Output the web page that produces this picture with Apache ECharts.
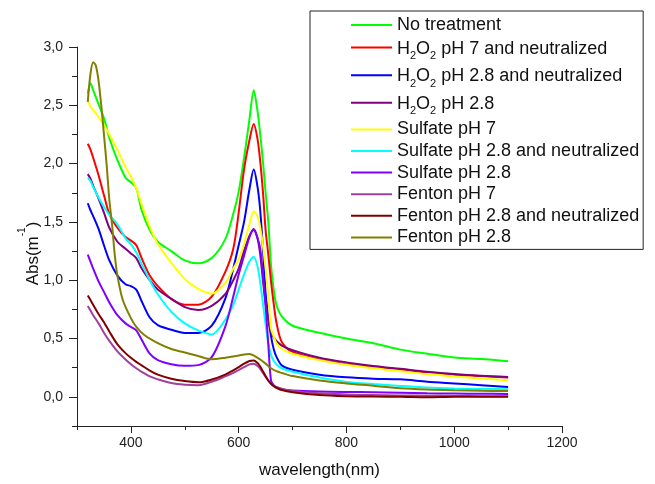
<!DOCTYPE html>
<html>
<head>
<meta charset="utf-8">
<script src="https://cdn.jsdelivr.net/npm/echarts@6/dist/echarts.min.js"></script>
<style>
  html, body { margin: 0; padding: 0; background: #fff; }
  #chart { width: 655px; height: 484px; }
</style>
</head>
<body>
<div id="chart"></div>
<script>
// Absorption spectra of the treated samples (wavelength in nm, absorbance in m^-1)
const wavelength = [320, 325, 330, 340, 350, 360, 375, 390, 400, 410, 420, 435, 450, 475, 500,
  525, 550, 575, 590, 600, 610, 620, 628, 635, 640, 645, 650, 655, 660, 665, 670, 680, 700,
  750, 800, 850, 900, 950, 1000, 1050, 1100];

const noTreatment = [2.60, 2.69, 2.63, 2.51, 2.39, 2.22, 2.03, 1.88, 1.84, 1.79, 1.60, 1.43, 1.33, 1.25, 1.17,
  1.145, 1.19, 1.35, 1.57, 1.76, 2.05, 2.38, 2.63, 2.45, 2.25, 2.02, 1.75, 1.50, 1.13, 0.92, 0.79, 0.69, 0.61,
  0.55, 0.50, 0.46, 0.405, 0.37, 0.337, 0.325, 0.305];
const h2o2Ph7Neutralized = [2.17, 2.12, 2.05, 1.90, 1.73, 1.57, 1.45, 1.37, 1.34, 1.30, 1.19, 1.04, 0.95, 0.84, 0.79,
  0.79, 0.86, 1.07, 1.27, 1.58, 1.95, 2.20, 2.34, 2.21, 2.02, 1.76, 1.43, 1.22, 0.99, 0.80, 0.64, 0.47, 0.385,
  0.32, 0.28, 0.255, 0.235, 0.21, 0.19, 0.178, 0.165];
const h2o2Ph28Neutralized = [1.66, 1.60, 1.55, 1.44, 1.30, 1.17, 1.04, 0.965, 0.95, 0.92, 0.82, 0.68, 0.615, 0.575, 0.548,
  0.548, 0.61, 0.84, 1.10, 1.30, 1.50, 1.78, 1.95, 1.80, 1.60, 1.27, 0.89, 0.68, 0.52, 0.41, 0.345, 0.27, 0.232,
  0.19, 0.168, 0.156, 0.15, 0.13, 0.115, 0.10, 0.085];
const h2o2Ph28 = [1.91, 1.87, 1.81, 1.70, 1.58, 1.45, 1.33, 1.27, 1.23, 1.19, 1.10, 1.00, 0.92, 0.84, 0.77,
  0.745, 0.78, 0.88, 1.00, 1.10, 1.25, 1.38, 1.44, 1.36, 1.22, 1.00, 0.80, 0.66, 0.56, 0.51, 0.48, 0.44, 0.40,
  0.335, 0.295, 0.265, 0.24, 0.215, 0.195, 0.18, 0.17];
const sulfatePh7 = [2.54, 2.49, 2.46, 2.40, 2.33, 2.25, 2.12, 1.97, 1.89, 1.79, 1.65, 1.46, 1.31, 1.15, 1.01,
  0.925, 0.885, 0.975, 1.10, 1.18, 1.31, 1.48, 1.59, 1.55, 1.45, 1.30, 1.10, 0.87, 0.59, 0.52, 0.46, 0.41, 0.37,
  0.315, 0.275, 0.245, 0.22, 0.195, 0.175, 0.158, 0.141];
const sulfatePh28Neutralized = [1.88, 1.85, 1.80, 1.71, 1.63, 1.56, 1.48, 1.36, 1.31, 1.24, 1.14, 1.00, 0.88, 0.73, 0.63,
  0.57, 0.535, 0.66, 0.79, 0.92, 1.05, 1.16, 1.20, 1.12, 0.98, 0.80, 0.62, 0.46, 0.36, 0.31, 0.28, 0.245, 0.215,
  0.165, 0.128, 0.11, 0.094, 0.08, 0.072, 0.068, 0.065];
const sulfatePh28 = [1.22, 1.16, 1.10, 0.99, 0.90, 0.81, 0.70, 0.63, 0.60, 0.57, 0.49, 0.37, 0.315, 0.28, 0.266,
  0.272, 0.34, 0.60, 0.86, 1.05, 1.21, 1.37, 1.43, 1.36, 1.27, 1.05, 0.78, 0.45, 0.14, 0.10, 0.08, 0.065, 0.055,
  0.046, 0.042, 0.04, 0.035, 0.03, 0.028, 0.026, 0.025];
const fentonPh7 = [0.78, 0.74, 0.70, 0.63, 0.55, 0.48, 0.39, 0.32, 0.28, 0.245, 0.215, 0.175, 0.15, 0.118, 0.104,
  0.10, 0.13, 0.175, 0.205, 0.23, 0.255, 0.278, 0.283, 0.265, 0.24, 0.205, 0.17, 0.14, 0.115, 0.095, 0.085, 0.07, 0.05,
  0.03, 0.02, 0.015, 0.012, 0.01, 0.008, 0.006, 0.005];
const fentonPh28Neutralized = [0.87, 0.83, 0.79, 0.71, 0.64, 0.56, 0.45, 0.375, 0.335, 0.30, 0.27, 0.225, 0.19, 0.155, 0.135,
  0.125, 0.148, 0.19, 0.228, 0.255, 0.285, 0.308, 0.312, 0.29, 0.26, 0.22, 0.178, 0.14, 0.112, 0.092, 0.078, 0.058, 0.04,
  0.016, 0.006, 0.002, 0.0, -0.004, 0.0, 0.0, 0.0];

// Fenton pH 2.8 is sampled more finely around its sharp UV band
const fentonWavelength = [320, 325, 330, 335, 340, 345, 350, 355, 360, 365, 370, 375, 385, 400, 410,
  425, 450, 475, 500, 525, 550, 575, 600, 620, 630, 640, 650, 660, 670, 680, 700, 750, 800, 850, 900,
  950, 1000, 1050, 1100];
const fentonPh28 = [2.53, 2.77, 2.87, 2.84, 2.71, 2.50, 2.25, 1.99, 1.69, 1.48, 1.22, 1.04, 0.83, 0.675, 0.60,
  0.53, 0.46, 0.41, 0.38, 0.35, 0.322, 0.335, 0.355, 0.368, 0.35, 0.32, 0.285, 0.245, 0.22, 0.205, 0.178,
  0.14, 0.115, 0.095, 0.073, 0.062, 0.056, 0.052, 0.05];

const seriesNames = [
  'No treatment',
  'H2O2 pH 7 and neutralized',
  'H2O2 pH 2.8 and neutralized',
  'H2O2 pH 2.8',
  'Sulfate pH 7',
  'Sulfate pH 2.8 and neutralized',
  'Sulfate pH 2.8',
  'Fenton pH 7',
  'Fenton pH 2.8 and neutralized',
  'Fenton pH 2.8'
];
const seriesValues = [noTreatment, h2o2Ph7Neutralized, h2o2Ph28Neutralized, h2o2Ph28, sulfatePh7,
  sulfatePh28Neutralized, sulfatePh28, fentonPh7, fentonPh28Neutralized, fentonPh28];
const seriesX = [wavelength, wavelength, wavelength, wavelength, wavelength,
  wavelength, wavelength, wavelength, wavelength, fentonWavelength];
const seriesColors = ['#00ff00', '#ff0000', '#0000ff', '#800080', '#ffff00',
  '#00ffff', '#8000ff', '#a040a0', '#800000', '#808000'];

// Long ticks carry labels, short ticks sit halfway between them
const xMajorTicks = [400, 600, 800, 1000, 1200];
const xMinorTicks = [300, 500, 700, 900, 1100];
const yMajorTicks = [0, 0.5, 1.0, 1.5, 2.0, 2.5, 3.0];
const yMinorTicks = [-0.25, 0.25, 0.75, 1.25, 1.75, 2.25, 2.75];

const FONT = '"Liberation Sans", Arial, sans-serif';
const AXIS_COLOR = '#222';

const chart = echarts.init(document.getElementById('chart'), null, { renderer: 'canvas' });

const grid = { left: 77, right: 93, top: 47, bottom: 55, containLabel: false };

const series = seriesNames.map((name, k) => ({
  name: name,
  type: 'line',
  xAxisIndex: 0,
  yAxisIndex: 0,
  data: seriesX[k].map((w, i) => [w, seriesValues[k][i]]),
  showSymbol: false,
  symbol: 'none',
  smooth: 0.3,
  lineStyle: { width: 2, color: seriesColors[k] },
  itemStyle: { color: seriesColors[k] },
  emphasis: { disabled: true },
  z: 2 + k
}));

// H2O2 gets subscripted digits in the legend
function legendLabel(name) {
  if (name.indexOf('H2O2') === 0) {
    return '{h|H}{s|2}{h|O}{s|2}{h|' + name.slice(4) + '}';
  }
  return '{m|' + name + '}';
}

function isMajorX(v) {
  return xMajorTicks.some(t => Math.abs(t - v) < 1e-6);
}
function isMajorY(v) {
  return yMajorTicks.some(t => Math.abs(t - v) < 1e-6);
}

const option = {
  animation: false,
  color: seriesColors,
  textStyle: { fontFamily: FONT },
  grid: grid,
  legend: {
    orient: 'vertical',
    left: 310,
    top: 11,
    padding: [5, 4, 3, 41],
    itemGap: 3.6,
    itemWidth: 41,
    itemHeight: 2,
    icon: 'rect',
    borderColor: '#222',
    borderWidth: 1,
    borderRadius: 0,
    backgroundColor: '#fff',
    selectedMode: false,
    data: seriesNames,
    formatter: legendLabel,
    textStyle: {
      fontFamily: FONT,
      fontSize: 18,
      color: '#111',
      rich: {
        m: { fontFamily: FONT, fontSize: 18, lineHeight: 18, color: '#111' },
        h: { fontFamily: FONT, fontSize: 18, lineHeight: 20, color: '#111', verticalAlign: 'top', padding: [2, 0, 0, 0] },
        s: { fontFamily: FONT, fontSize: 11, lineHeight: 11, color: '#111', verticalAlign: 'top', padding: [13, 0, 0, 0] }
      }
    }
  },
  xAxis: [
    {
      type: 'value',
      gridIndex: 0,
      position: 'bottom',
      min: 300,
      max: 1200,
      interval: 100,
      axisLine: { show: true, onZero: false, lineStyle: { color: AXIS_COLOR, width: 1 } },
      axisTick: { show: true, customValues: xMajorTicks, length: 7, lineStyle: { color: AXIS_COLOR, width: 1 } },
      axisLabel: {
        fontFamily: FONT,
        fontSize: 14,
        color: '#222',
        margin: 10,
        formatter: v => (isMajorX(v) ? String(Math.round(v)) : '')
      },
      splitLine: { show: false },
      name: 'wavelength(nm)',
      nameLocation: 'middle',
      nameGap: 36,
      nameMoveOverlap: false,
      nameTextStyle: { fontFamily: FONT, fontSize: 17, color: '#111' }
    },
    {
      type: 'value',
      gridIndex: 0,
      position: 'bottom',
      offset: 0,
      min: 300,
      max: 1200,
      interval: 100,
      axisLine: { show: false, onZero: false },
      axisTick: { show: true, customValues: xMinorTicks, length: 4, lineStyle: { color: AXIS_COLOR, width: 1 } },
      axisLabel: { show: false },
      splitLine: { show: false }
    }
  ],
  yAxis: [
    {
      type: 'value',
      gridIndex: 0,
      position: 'left',
      min: -0.25,
      max: 3,
      interval: 0.25,
      axisLine: { show: true, onZero: false, lineStyle: { color: AXIS_COLOR, width: 1 } },
      axisTick: { show: true, customValues: yMajorTicks, length: 8, lineStyle: { color: AXIS_COLOR, width: 1 } },
      axisLabel: {
        fontFamily: FONT,
        fontSize: 14,
        color: '#222',
        margin: 14,
        formatter: v => (isMajorY(v) ? v.toFixed(1).replace('.', ',') : '')
      },
      splitLine: { show: false },
      name: '{a|Abs(m}{p|-1}{e|)}',
      nameLocation: 'middle',
      nameRotate: 90,
      nameGap: 35,
      nameMoveOverlap: false,
      nameTextStyle: {
        fontFamily: FONT,
        fontSize: 17,
        color: '#111',
        rich: {
          a: { fontFamily: FONT, fontSize: 17, lineHeight: 25, color: '#111', verticalAlign: 'bottom' },
          e: { fontFamily: FONT, fontSize: 17, lineHeight: 25, color: '#111', verticalAlign: 'bottom', padding: [0, 34, 0, 0] },
          p: { fontFamily: FONT, fontSize: 10, lineHeight: 10, color: '#111', verticalAlign: 'top' }
        }
      }
    },
    {
      type: 'value',
      gridIndex: 0,
      position: 'left',
      offset: 0,
      min: -0.25,
      max: 3,
      interval: 0.25,
      axisLine: { show: false, onZero: false },
      axisTick: { show: true, customValues: yMinorTicks, length: 5, lineStyle: { color: AXIS_COLOR, width: 1 } },
      axisLabel: { show: false },
      splitLine: { show: false }
    }
  ],
  series: series
};

chart.setOption(option);
</script>
</body>
</html>
